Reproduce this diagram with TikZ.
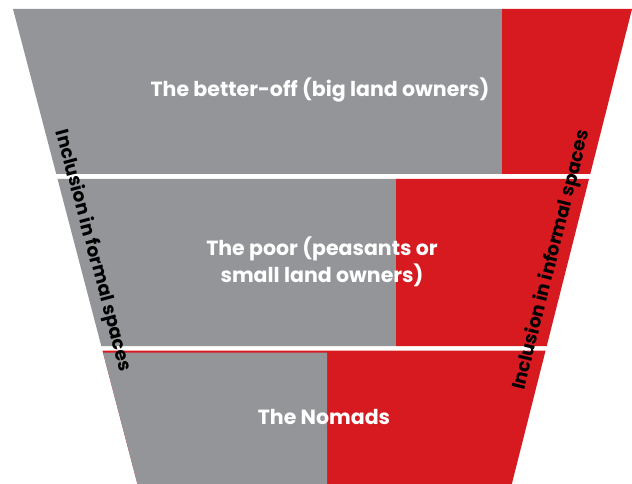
\documentclass[tikz,border=0pt]{standalone}
\usepackage{fontspec}
\setmainfont{Poppins}[BoldFont={Poppins Bold}]
\definecolor{fgray}{HTML}{939598}
\definecolor{fred}{HTML}{D71A20}
\begin{document}
\begin{tikzpicture}[x=1pt,y=-1pt,
  declare function={xl(\t)=13+0.262*(\t-9); xr(\t)=632-0.253*(\t-9);},
  bandtext/.style={font=\bfseries\fontsize{20.5}{27}\selectfont, text=white, align=center, inner sep=0pt},
  sidetext/.style={font=\bfseries\fontsize{18.5}{22}\selectfont, text=black, inner sep=0pt}]
\useasboundingbox (0,0) rectangle (632,484);

% top band: the better-off
\fill[fgray] ({xl(9)},9) -- (502,9) -- (502,174) -- ({xl(174)},174) -- cycle;
\fill[fred] (502,9) -- ({xr(9)},9) -- ({xr(174)},174) -- (502,174) -- cycle;

% middle band: the poor
\fill[fgray] ({xl(179)},179) -- (396,179) -- (396,346) -- ({xl(346)},346) -- cycle;
\fill[fred] (396,179) -- ({xr(179)},179) -- ({xr(346)},346) -- (396,346) -- cycle;

% bottom band: the nomads, with a thin red rule on top
\fill[fred] ({xl(350.5)},350.5) -- ({xr(350.5)},350.5) -- ({xr(484)},484) -- ({xl(484)},484) -- cycle;
\fill[fgray] ({xl(352.5)},352.5) -- (327,352.5) -- (327,484) -- ({xl(484)},484) -- cycle;

% band labels
\node[bandtext] (rich) at (320,90) {The better-off (big land owners)};
\node[bandtext] (poor) at (322,262) {The poor (peasants or\\small land owners)};
\node[bandtext] (nomads) at (324,417) {The Nomads};

% side labels
\node[sidetext, rotate=-75] (formal) at (93,251) {Inclusion in formal spaces};
\node[sidetext, rotate=76] (informal) at (552,260) {Inclusion in informal spaces};
\end{tikzpicture}
\end{document}
